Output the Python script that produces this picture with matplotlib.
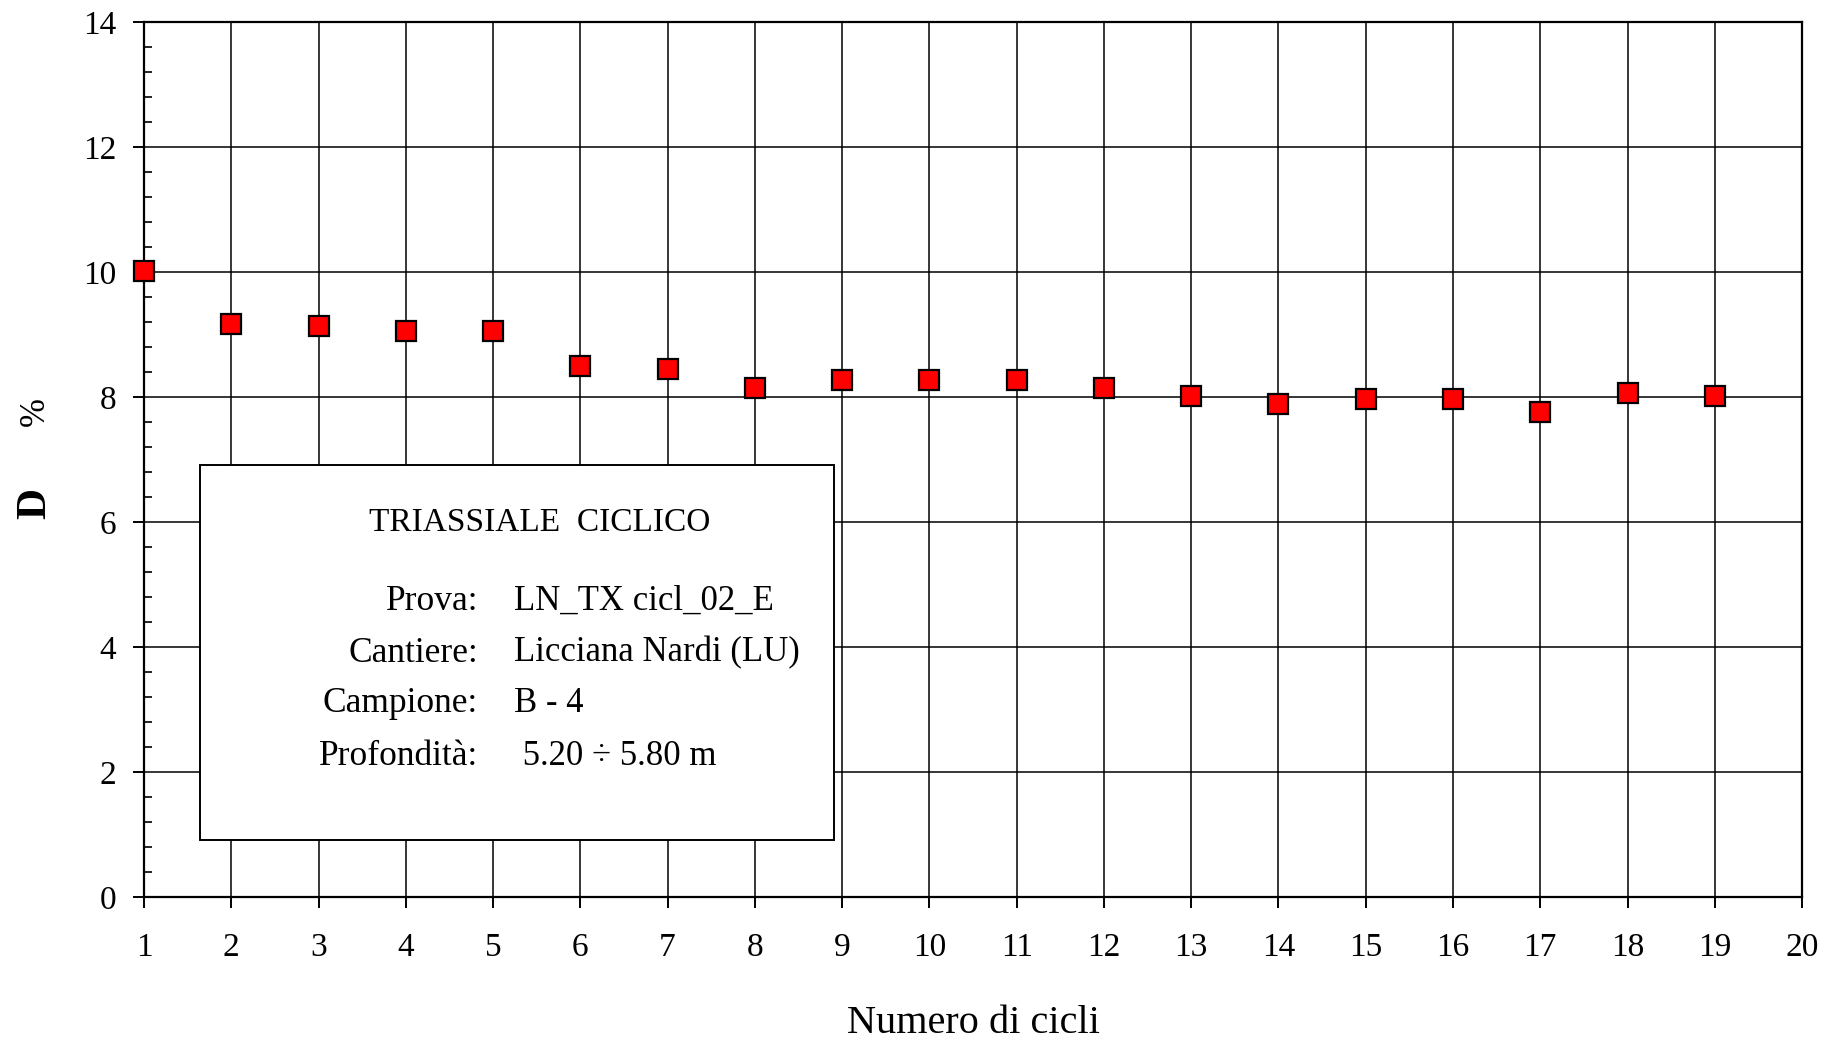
import matplotlib
matplotlib.use("Agg")
import matplotlib.pyplot as plt
from matplotlib.ticker import MultipleLocator
from matplotlib.patches import Rectangle

plt.rcParams['font.family'] = ['Liberation Serif', 'DejaVu Serif']

# Damping ratio D (%) for each loading cycle
cycles = list(range(1, 20))
damping = [10.01, 9.16, 9.14, 9.06, 9.06, 8.50, 8.44, 8.14, 8.27, 8.27,
           8.27, 8.14, 8.02, 7.89, 7.97, 7.97, 7.76, 8.07, 8.01]

x_ticks = list(range(1, 21))
y_ticks = list(range(0, 15, 2))

info_title = "TRIASSIALE  CICLICO"
info_labels = ["Prova:", "Cantiere:", "Campione:", "Profondità:"]
info_values = ["LN_TX cicl_02_E", "Licciana Nardi (LU)", "B - 4", " 5.20 ÷ 5.80 m"]

fig = plt.figure(figsize=(18.39, 10.39), dpi=100)
ax = fig.add_axes([0.0783, 0.1367, 0.9016, 0.8422])

ax.set_xlim(1, 20)
ax.set_ylim(0, 14)
ax.set_xticks(x_ticks)
ax.set_yticks(y_ticks)
ax.yaxis.set_minor_locator(MultipleLocator(0.4))

ax.grid(True, which='major', color='black', linewidth=1.1)
ax.set_axisbelow(True)

for s in ax.spines.values():
    s.set_linewidth(1.6)
    s.set_color('black')

ax.tick_params(axis='both', which='major', direction='out', length=8,
               width=1.4, labelsize=24, colors='black')
ax.tick_params(axis='x', which='major', pad=17.5)
ax.tick_params(axis='y', which='major', pad=12)
ax.tick_params(axis='y', which='minor', direction='in', length=6, width=1.2)
ax.tick_params(axis='x', which='minor', length=0)

ax.plot(cycles, damping, linestyle='none', marker='s', markersize=14,
        markerfacecolor='#ff0000', markeredgecolor='black',
        markeredgewidth=1.6, clip_on=False, zorder=5)

ax.set_xlabel("Numero di cicli", fontsize=29, labelpad=30)

# Split y-axis label: "D" and "%"
fig.text(0.0192, 1 - 503 / 1039, "D", rotation=90, fontsize=31,
         fontweight='bold', ha='center', va='center')
fig.text(0.0192, 1 - 412 / 1039, "%", rotation=90, fontsize=25,
         ha='center', va='center')

# Test information box
box = Rectangle((1.647, 0.91), 8.906 - 1.647, 6.91 - 0.91,
                facecolor='white', edgecolor='black', linewidth=1.4, zorder=4)
ax.add_patch(box)
ax.text(5.53, 5.99, info_title, fontsize=24, ha='center', va='center', zorder=6)
rows_y = [4.73, 3.90, 3.10, 2.24]
for lab, val, y in zip(info_labels, info_values, rows_y):
    ax.text(4.83, y, lab, fontsize=25.5, ha='right', va='center', zorder=6)
    ax.text(5.24, y, val, fontsize=25, ha='left', va='center', zorder=6)

fig.savefig("out.png", dpi=100, facecolor='white')
